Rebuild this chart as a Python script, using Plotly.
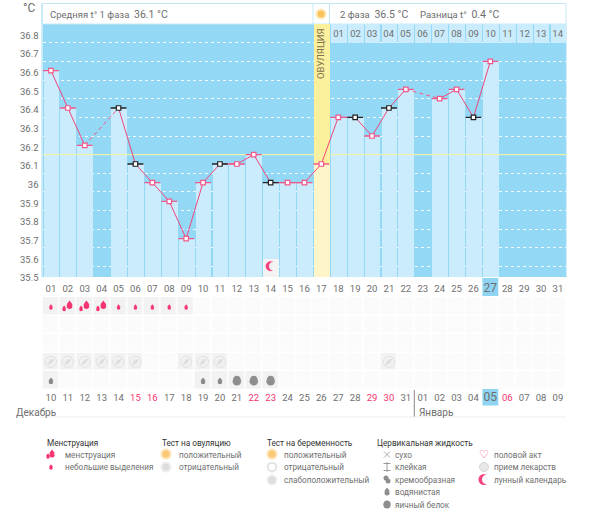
import plotly.graph_objects as go

days = list(range(1, 32))
temps = [36.6, 36.4, 36.2, None, 36.4, 36.1, 36.0, 35.9, 35.7, 36.0, 36.1, 36.1, 36.15, 36.0, 36.0, 36.0,
         36.1, 36.35, 36.35, 36.25, 36.4, 36.5, None, 36.45, 36.5, 36.35, 36.65, None, None, None, None]
black_days = [5, 6, 11, 14, 19, 21, 26]
ovulation_day = 17
today_col = 27
cover_line = 36.15
y_ticks = [35.5, 35.6, 35.7, 35.8, 35.9, 36.0, 36.1, 36.2, 36.3, 36.4, 36.5, 36.6, 36.7, 36.8]
y_labels = ["35.5", "35.6", "35.7", "35.8", "35.9", "36", "36.1", "36.2", "36.3", "36.4", "36.5", "36.6", "36.7", "36.8"]
cycle_labels = [f"{d:02d}" for d in days]
phase2_days = list(range(18, 32))
phase2_labels = [f"{d:02d}" for d in range(1, 15)]
date_labels = ["10", "11", "12", "13", "14", "15", "16", "17", "18", "19", "20", "21", "22", "23", "24", "25",
               "26", "27", "28", "29", "30", "31", "01", "02", "03", "04", "05", "06", "07", "08", "09"]
weekend_cols = [6, 7, 13, 14, 20, 21, 28]
light_flow = [1, 5, 6, 7, 8, 9]
heavy_flow = [2, 3, 4]
pill_cols = [1, 2, 3, 4, 5, 6, 9, 10, 11, 21]
watery_cols = [1, 10, 11]
eggwhite_cols = [12, 13, 14]
moon_cols = [14]

FONT = "Roboto"
GREY = "#6e6e6e"
PINK = "#f0457c"
SKY = "#93d8f4"
PALE = "#cbecfc"
L, R, T, B = 42.5, 566.4, 24.0, 277.0
RT, RB = 297.0, 389.5
YMIN, YMAX = 35.4946, 36.85


def px(x):
    return x / 600


def py(y):
    return 1 - y / 531


fig = go.Figure()

# ---- main chart
fig.add_bar(x=[ovulation_day], y=[YMAX], width=0.93, marker=dict(color="#fdf09c", line_width=0), hoverinfo="skip")
bar_x = [d for d, t in zip(days, temps) if t is not None]
bar_y = [t for t in temps if t is not None]
bar_c = ["#fef6c8" if d == ovulation_day else PALE for d in bar_x]
fig.add_bar(x=bar_x, y=bar_y, width=0.93, marker=dict(color=bar_c, line_width=0))
fig.add_bar(x=phase2_days, y=[0.1] * len(phase2_days), base=36.75, width=0.93,
            marker=dict(color=PALE, line_width=0), text=phase2_labels, textposition="inside",
            insidetextanchor="middle", textangle=0, constraintext="none",
            textfont=dict(family=FONT, size=9.5, color=GREY))
fig.add_bar(x=moon_cols, y=[35.59], width=0.95, marker=dict(color="#f3f3f3", line_width=0))
fig.add_scatter(x=[0.5, 31.5], y=[cover_line, cover_line], mode="lines", line=dict(color="#eef0ac", width=1.2))

gx, gy = [], []
for i in range(1, len(days) - 1):
    if temps[i] is None and temps[i - 1] is not None and temps[i + 1] is not None:
        gx += [days[i - 1], days[i + 1], None]
        gy += [temps[i - 1], temps[i + 1], None]
fig.add_scatter(x=gx, y=gy, mode="lines", line=dict(color="#f0588a", width=1, dash="4px,3px"))
fig.add_scatter(x=days, y=temps, mode="lines", line=dict(color=PINK, width=1))

for is_black, col in ((False, "#f0588a"), (True, "#222222")):
    sx = [d for d, t in zip(days, temps) if t is not None and ((d in black_days) == is_black)]
    sy = [t for d, t in zip(days, temps) if t is not None and ((d in black_days) == is_black)]
    fig.add_scatter(x=sx, y=sy, mode="markers",
                    error_x=dict(type="constant", value=0.47, thickness=1.3, width=0, color=col),
                    marker=dict(symbol="square", size=4.5, color="white", line=dict(color=col, width=1.2)))

fig.add_scatter(x=moon_cols, y=[35.552], mode="markers", marker=dict(size=10, color="#f7447f", line_width=0))
fig.add_scatter(x=[c + 0.17 for c in moon_cols], y=[35.552], mode="markers",
                marker=dict(size=9, color="#f3f3f3", line_width=0))

# ---- symbol rows
rows = [1, 2, 3, 4, 5]
z = [[0] * 31 for _ in rows]
for c in light_flow + heavy_flow:
    z[0][c - 1] = 1
for c in pill_cols:
    z[3][c - 1] = 1
for c in watery_cols + eggwhite_cols:
    z[4][c - 1] = 1
fig.add_heatmap(x=days, y=rows, z=z, xaxis="x2", yaxis="y2", xgap=1.5, ygap=1.5, showscale=False, zmin=0, zmax=1,
                colorscale=[[0, "#fbfbfb"], [1, "#f2f2f2"]], hoverinfo="skip")


def drop(xs, ys, size, color, xaxis, yaxis, dy):
    """a teardrop: a circle with a triangle on top; dy is the triangle lift in axis units"""
    fig.add_scatter(x=xs, y=[v + dy for v in ys], mode="markers", xaxis=xaxis, yaxis=yaxis,
                    marker=dict(symbol="triangle-up", size=size, color=color, line_width=0))
    fig.add_scatter(x=xs, y=ys, mode="markers", xaxis=xaxis, yaxis=yaxis,
                    marker=dict(symbol="circle", size=size, color=color, line_width=0))


RED = "#f5346f"
drop(light_flow, [1.1] * len(light_flow), 3.5, RED, "x2", "y2", -0.12)
drop([c + 0.1 for c in heavy_flow], [1.0] * 3, 5.5, RED, "x2", "y2", -0.16)
drop([c - 0.22 for c in heavy_flow], [1.18] * 3, 3.5, RED, "x2", "y2", -0.12)
fig.add_scatter(x=pill_cols, y=[4] * len(pill_cols), xaxis="x2", yaxis="y2", mode="markers",
                marker=dict(size=11, color="#f8f8f8", line=dict(color="#e0e0e0", width=1),
                            gradient=dict(type="radial", color="#e4e4e4")))
fig.add_scatter(x=pill_cols, y=[4] * len(pill_cols), xaxis="x2", yaxis="y2", mode="markers",
                marker=dict(symbol="line-ne", size=6, line=dict(color="#cccccc", width=1)))
drop(watery_cols, [5.1] * 3, 4.5, "#8a8a8a", "x2", "y2", -0.13)
fig.add_scatter(x=eggwhite_cols, y=[5.05] * 3, xaxis="x2", yaxis="y2", mode="markers",
                marker=dict(size=8.5, symbol="circle", color="#8e8e8e", line_width=0))
fig.add_scatter(x=eggwhite_cols, y=[4.95] * 3, xaxis="x2", yaxis="y2", mode="markers",
                marker=dict(size=7, symbol="circle", color="#8e8e8e", line_width=0))

# ---- page-level icons, positioned on a pixel overlay
ov = dict(xaxis="x3", yaxis="y3")
fig.add_scatter(x=[321], y=[14], mode="markers", **ov,
                marker=dict(size=9, color="#f9c25c", line=dict(color="#fde9b8", width=2)))
drop([48], [457], 3.5, RED, "x3", "y3", -2)
drop([52], [455], 5, RED, "x3", "y3", -3)
drop([51], [468], 3.5, RED, "x3", "y3", -2)
fig.add_scatter(x=[166, 272], y=[454, 454], mode="markers", **ov,
                marker=dict(size=9, color="#fbc877", line=dict(color="#fde3b6", width=2)))
fig.add_scatter(x=[166, 272, 272], y=[467, 467, 480], mode="markers", **ov,
                marker=dict(size=9, color="#dddddd", line=dict(color="#eeeeee", width=2)))
fig.add_scatter(x=[272], y=[467], mode="markers", **ov,
                marker=dict(size=8, color="white", line=dict(color="#dddddd", width=1)))
fig.add_scatter(x=[387], y=[454.5], mode="markers", **ov,
                marker=dict(symbol="x-thin", size=6, line=dict(color="#aaaaaa", width=1)))
fig.add_scatter(x=[387], y=[467], mode="markers", **ov,
                marker=dict(symbol="line-ns", size=7, line=dict(color="#999999", width=1)))
fig.add_scatter(x=[387, 387], y=[463.5, 470.5], mode="markers", **ov,
                marker=dict(symbol="line-ew", size=5, line=dict(color="#999999", width=1)))
fig.add_scatter(x=[386, 388], y=[478, 481], mode="markers", **ov,
                marker=dict(size=5, color="#8e8e8e", line_width=0))
drop([387], [493], 5, "#8e8e8e", "x3", "y3", -3)
fig.add_scatter(x=[387, 387], y=[504, 505], mode="markers", **ov,
                marker=dict(size=7, color="#8e8e8e", line_width=0))
fig.add_scatter(x=[484], y=[467], mode="markers", **ov,
                marker=dict(size=9, color="#e8e8e8", line=dict(color="#d4d4d4", width=1)))
fig.add_scatter(x=[484], y=[479.5], mode="markers", **ov, marker=dict(size=11, color="#f7447f", line_width=0))
fig.add_scatter(x=[487], y=[479.5], mode="markers", **ov, marker=dict(size=10, color="white", line_width=0))

# ---- text
ann = []


def text(x, y, s, size=9, color=GREY, anchor="left", angle=0):
    ann.append(dict(x=px(x - 1), y=py(y), xref="paper", yref="paper", text=s, showarrow=False, xanchor=anchor,
                    yanchor="middle", textangle=angle, font=dict(family=FONT, size=size, color=color)))


text(30, 8, "°C", 12, GREY, "center")
text(48.5, 14, 'Средняя t° 1 фаза  <span style="font-size:10.5px">36.1 °C</span>', 9.5)
text(339, 14, '2 фаза  <span style="font-size:10.5px">36.5 °C</span>', 9.5)
text(419, 14, 'Разница t°  <span style="font-size:10.5px">0.4 °C</span>', 9.5)
text(322, 54, "ОВУЛЯЦИЯ", 9.5, "#7d7350", "center", -90)
text(15, 412, "Декабрь", 10)
text(418, 412, "Январь", 10)

DARK = "#333333"
LEG = "#707070"
for x, s in ((46, "Менструация"), (161, "Тест на овуляцию"), (266, "Тест на беременность"),
             (376, "Цервикальная жидкость")):
    text(x, 442.5, s, 8.2, DARK)
for x, y, s in ((64, 454.5, "менструация"), (64, 467, "небольшие выделения"),
                (178, 454.5, "положительный"), (178, 467, "отрицательный"),
                (283, 454.5, "положительный"), (283, 467, "отрицательный"), (283, 479.5, "слабоположительный"),
                (394, 454.5, "сухо"), (394, 467, "клейкая"), (394, 479.5, "кремообразная"),
                (394, 492, "водянистая"), (394, 504.5, "яичный белок"),
                (493, 454.5, "половой акт"), (493, 467, "прием лекарств"), (493, 479.5, "лунный календарь")):
    text(x, y, s, 8.2, LEG)
text(485, 454, "♡", 11, PINK, "center")

# ---- decoration
shapes = [
    dict(type="rect", xref="x domain", yref="y domain", x0=0, x1=1, y0=0, y1=1, fillcolor=SKY, line_width=0,
         layer="below"),
    dict(type="rect", xref="paper", yref="paper", x0=px(42), x1=px(566), y0=py(24), y1=py(3.5), fillcolor="white",
         line=dict(color="#c4e8f8", width=1), layer="below"),
    dict(type="line", xref="paper", yref="paper", x0=px(42), x1=px(42), y0=py(277), y1=py(3.5),
         line=dict(color="#c4e8f8", width=1.5)),
    dict(type="line", xref="paper", yref="paper", x0=px(313), x1=px(313), y0=py(24), y1=py(3.5),
         line=dict(color="#c4e8f8", width=1)),
    dict(type="line", xref="paper", yref="paper", x0=px(329.5), x1=px(329.5), y0=py(24), y1=py(3.5),
         line=dict(color="#c4e8f8", width=1)),
    dict(type="rect", xref="x", yref="paper", x0=today_col - 0.47, x1=today_col + 0.47, y0=py(296), y1=py(278),
         fillcolor="#8fd4f2", line_width=0, layer="below"),
    dict(type="rect", xref="x", yref="paper", x0=today_col - 0.47, x1=today_col + 0.47, y0=py(405.5), y1=py(389),
         fillcolor="#8fd4f2", line_width=0, layer="below"),
    dict(type="line", xref="x", yref="paper", x0=22.5, x1=22.5, y0=py(417), y1=py(390),
         line=dict(color="#888888", width=1)),
    dict(type="line", xref="paper", yref="paper", x0=px(40), x1=px(566), y0=py(417), y1=py(417),
         line=dict(color="#eeeeee", width=1)),
]

cycle_text = [f'<span style="font-size:12px">{t}</span>' if d == today_col else t
              for d, t in zip(days, cycle_labels)]
date_text = []
for d, t in zip(days, date_labels):
    if d in weekend_cols:
        date_text.append(f'<span style="color:#f5346f">{t}</span>')
    elif d == today_col:
        date_text.append(f'<span style="font-size:12px">{t}</span>')
    else:
        date_text.append(t)

xbase = dict(range=[0.5, 31.5], domain=[px(L), px(R)], tickmode="array", tickvals=days, ticks="",
             showgrid=False, zeroline=False, showline=False, ticklabelstandoff=4, automargin=False,
             tickfont=dict(family=FONT, size=9.5, color=GREY), tickangle=0)
fig.update_layout(
    width=600, height=531, autosize=False, margin=dict(l=0, r=0, t=0, b=0), showlegend=False,
    paper_bgcolor="white", plot_bgcolor="rgba(0,0,0,0)", barmode="overlay", bargap=0,
    xaxis=dict(xbase, ticktext=cycle_text, anchor="y"),
    yaxis=dict(range=[YMIN, YMAX], domain=[py(B), py(T)], tickmode="array", tickvals=y_ticks, ticktext=y_labels,
               ticks="", showgrid=False, zeroline=False, showline=False, ticklabelstandoff=3, ticklabelshift=2,
               automargin=False, tickfont=dict(family=FONT, size=9.5, color=GREY),
               minor=dict(tick0=35.55, dtick=0.1, showgrid=True, gridcolor="rgba(255,255,255,0.85)",
                          griddash="dot", gridwidth=1, ticks="")),
    xaxis2=dict(xbase, ticktext=date_text, anchor="y2", ticklabelstandoff=1),
    yaxis2=dict(range=[5.5, 0.5], domain=[py(RB), py(RT)], visible=False, anchor="x2", automargin=False),
    xaxis3=dict(range=[0, 600], domain=[0, 1], visible=False, anchor="y3", automargin=False),
    yaxis3=dict(range=[531, 0], domain=[0, 1], visible=False, anchor="x3", automargin=False),
    annotations=ann, shapes=shapes,
)
fig.update_traces(hoverinfo="skip")
fig.write_html("out.html", config={"displayModeBar": False},
               post_script="document.documentElement.style.overflow='hidden';document.body.style.margin='0';"
                           "document.body.style.overflow='hidden';document.body.style.height='531px';")
